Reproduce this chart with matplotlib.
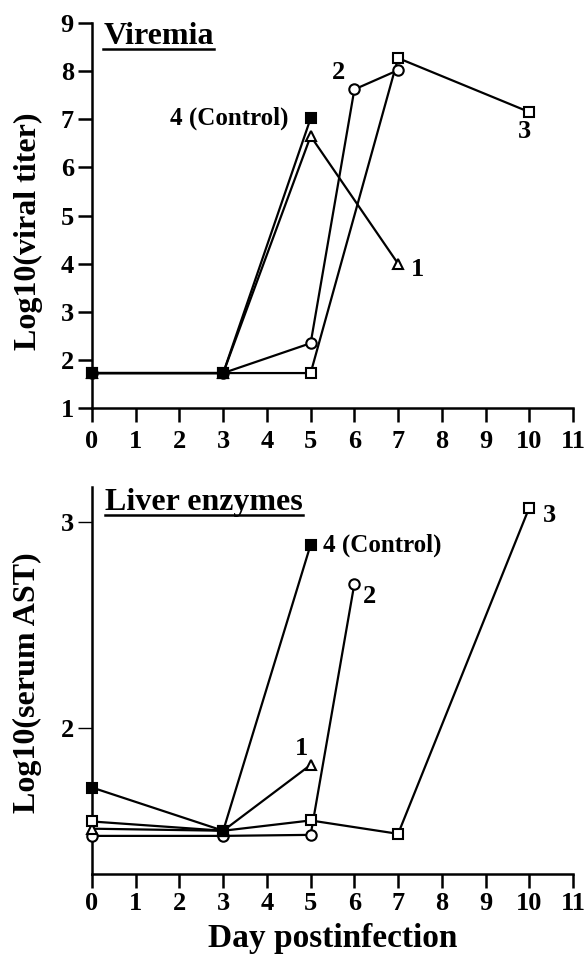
import matplotlib
matplotlib.use("Agg")
import matplotlib.pyplot as plt
from matplotlib.lines import Line2D

plt.rcParams['font.family'] = ['Liberation Serif', 'DejaVu Serif']
plt.rcParams['font.weight'] = 'bold'

# Viremia panel, log10 viral titer
s1_days_v = [0, 3, 5, 7]
s1_vir = [1.73, 1.73, 6.65, 4.0]
s2_days_v = [0, 3, 5, 6, 7]
s2_vir = [1.73, 1.73, 2.35, 7.62, 8.02]
s3_days_v = [0, 3, 5, 7, 10]
s3_vir = [1.73, 1.73, 1.73, 8.27, 7.15]
s4_days_v = [0, 3, 5]
s4_vir = [1.73, 1.73, 7.02]

# Liver enzymes panel, log10 serum AST
s1_days_a = [0, 3, 5]
s1_ast = [1.51, 1.50, 1.82]
s2_days_a = [0, 3, 5, 6]
s2_ast = [1.475, 1.475, 1.48, 2.70]
s3_days_a = [0, 3, 5, 7, 10]
s3_ast = [1.545, 1.50, 1.55, 1.485, 3.07]
s4_days_a = [0, 3, 5]
s4_ast = [1.71, 1.50, 2.89]

day_ticks = list(range(0, 12))


def style_axes(ax):
    ax.spines['top'].set_visible(False)
    ax.spines['right'].set_visible(False)
    ax.spines['left'].set_linewidth(1.8)
    ax.spines['bottom'].set_linewidth(1.8)
    ax.tick_params(direction='out', length=10, width=1.8, labelsize=19, pad=3)
    ax.set_xticks(day_ticks)
    ax.set_xlim(0, 11)
    for lab in ax.get_xticklabels() + ax.get_yticklabels():
        lab.set_fontweight('bold')


def draw(ax, days, vals, marker, fill):
    ax.plot(days, vals, color='black', lw=1.6, marker=marker, ms=7.5,
            mfc=fill, mec='black', mew=1.5, clip_on=False, zorder=3)


def underlined_title(fig, ax, x, y, text):
    t = ax.text(x, y, text, transform=ax.transData, fontsize=23,
                fontweight='bold', ha='left', va='baseline')
    fig.canvas.draw()
    bb = t.get_window_extent().transformed(ax.transData.inverted())
    ybar = y - (bb.y1 - bb.y0) * 0.2
    ax.add_line(Line2D([bb.x0, bb.x1], [ybar, ybar], color='black', lw=1.8,
                       clip_on=False))


fig = plt.figure(figsize=(5.88, 9.56), dpi=100)

ax1 = fig.add_axes([0.1565, 0.573, 0.818, 0.403])
style_axes(ax1)
ax1.tick_params(axis='x', pad=6)
ax1.set_ylim(1, 9)
ax1.set_yticks(range(1, 10))
draw(ax1, s3_days_v, s3_vir, 's', 'white')
draw(ax1, s2_days_v, s2_vir, 'o', 'white')
draw(ax1, s1_days_v, s1_vir, '^', 'white')
draw(ax1, s4_days_v, s4_vir, 's', 'black')
ax1.set_ylabel('Log10(viral titer)', fontsize=23, fontweight='bold')
ax1.yaxis.set_label_coords(-0.102, 0.46)
ax1.text(4.5, 7.02, '4 (Control)', fontsize=18, fontweight='bold', ha='right', va='center')
ax1.text(5.63, 7.98, '2', fontsize=19, fontweight='bold', ha='center', va='center')
ax1.text(9.88, 6.75, '3', fontsize=19, fontweight='bold', ha='center', va='center')
ax1.text(7.45, 3.87, '1', fontsize=19, fontweight='bold', ha='center', va='center')

ax2 = fig.add_axes([0.1565, 0.0858, 0.818, 0.4048])
style_axes(ax2)
ax2.set_ylim(1.29, 3.17)
ax2.set_yticks([2, 3])
ax2.tick_params(axis='y', width=1.0)
draw(ax2, s2_days_a, s2_ast, 'o', 'white')
draw(ax2, s1_days_a, s1_ast, '^', 'white')
draw(ax2, s3_days_a, s3_ast, 's', 'white')
draw(ax2, s4_days_a, s4_ast, 's', 'black')
ax2.set_ylabel('Log10(serum AST)', fontsize=23, fontweight='bold')
ax2.yaxis.set_label_coords(-0.103, 0.494)
ax2.set_xlabel('Day postinfection', fontsize=24, fontweight='bold', labelpad=6)
ax2.text(5.28, 2.885, '4 (Control)', fontsize=18, fontweight='bold', ha='left', va='center')
ax2.text(6.35, 2.64, '2', fontsize=19, fontweight='bold', ha='center', va='center')
ax2.text(10.45, 3.03, '3', fontsize=19, fontweight='bold', ha='center', va='center')
ax2.text(4.78, 1.90, '1', fontsize=19, fontweight='bold', ha='center', va='center')

underlined_title(fig, ax1, 0.26, 8.57, 'Viremia')
underlined_title(fig, ax2, 0.3, 3.06, 'Liver enzymes')

fig.savefig('out.png', dpi=100)
